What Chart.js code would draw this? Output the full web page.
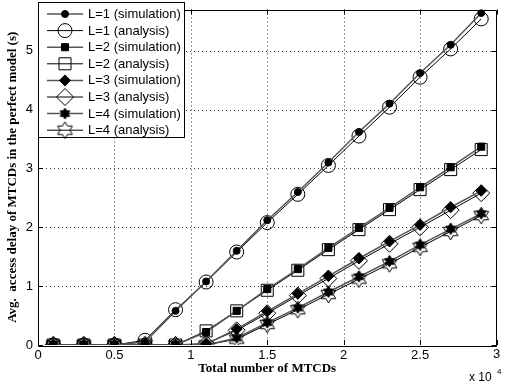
<!DOCTYPE html>
<html>
<head>
<meta charset="utf-8">
<script src="https://cdn.jsdelivr.net/npm/chart.js@4/dist/chart.umd.min.js"></script>
<style>
  html, body { margin: 0; padding: 0; background: #fff; }
  #wrap { width: 506px; height: 385px; position: relative; }
</style>
</head>
<body>
<div id="wrap"><canvas id="chart" width="506" height="385"></canvas></div>
<script>
const mtcds = [1000, 3000, 5000, 7000, 9000, 11000, 13000, 15000, 17000, 19000, 21000, 23000, 25000, 27000, 29000];

const l1Sim = [0, 0, 0, 0.05, 0.58, 1.08, 1.6, 2.12, 2.6, 3.1, 3.62, 4.1, 4.62, 5.1, 5.64];
const l1Ana = [0, 0, 0, 0.08, 0.6, 1.07, 1.58, 2.08, 2.56, 3.05, 3.55, 4.04, 4.55, 5.03, 5.54];
const l2Sim = [0, 0, 0, 0, 0, 0.22, 0.58, 0.95, 1.29, 1.65, 1.99, 2.33, 2.68, 3.02, 3.37];
const l2Ana = [0, 0, 0, 0, 0, 0.24, 0.58, 0.93, 1.27, 1.62, 1.96, 2.3, 2.64, 2.98, 3.32];
const l3Sim = [0, 0, 0, 0, 0, 0.02, 0.27, 0.57, 0.87, 1.17, 1.47, 1.76, 2.04, 2.34, 2.62];
const l3Ana = [0, 0, 0, 0, 0, 0.02, 0.25, 0.54, 0.84, 1.13, 1.43, 1.72, 2.0, 2.29, 2.58];
const l4Sim = [0, 0, 0, 0, 0, 0, 0.12, 0.38, 0.63, 0.9, 1.16, 1.42, 1.7, 1.97, 2.23];
const l4Ana = [0, 0, 0, 0, 0, 0, 0.1, 0.35, 0.6, 0.86, 1.12, 1.38, 1.66, 1.93, 2.2];

const seriesLabels = ['L=1 (simulation)', 'L=1 (analysis)', 'L=2 (simulation)', 'L=2 (analysis)',
    'L=3 (simulation)', 'L=3 (analysis)', 'L=4 (simulation)', 'L=4 (analysis)'];

const xTicks = [0, 5000, 10000, 15000, 20000, 25000, 30000];
const yTicks = [0, 1, 2, 3, 4, 5];

const yTitle = 'Avg.  access delay of MTCDs in the perfect model (s)';
const xTitle = 'Total number of MTCDs';

function makeStar(r, filled) {
    let c = document.createElement('canvas');
    let s = Math.ceil(2 * r + 4);
    c.width = s;
    c.height = s;
    let ctx = c.getContext('2d');
    ctx.translate(s / 2, s / 2);
    ctx.beginPath();
    for (let k = 0; k < 12; k++) {
        let a = -Math.PI / 2 + k * Math.PI / 6;
        let rr = k % 2 == 0 ? r : r * 0.577;
        let px = Math.cos(a) * rr, py = Math.sin(a) * rr;
        if (k == 0) ctx.moveTo(px, py); else ctx.lineTo(px, py);
    }
    ctx.closePath();
    if (filled) {
        ctx.fillStyle = '#000';
        ctx.fill();
    }
    ctx.strokeStyle = '#000';
    ctx.lineWidth = 1;
    ctx.stroke();
    return c;
}

const markerStyles = [
    { pointStyle: 'circle', radius: 3.5, fill: '#000' },
    { pointStyle: 'circle', radius: 7, fill: 'rgba(0,0,0,0)' },
    { pointStyle: 'rect', radius: 5, fill: '#000' },
    { pointStyle: 'rect', radius: 8.5, fill: 'rgba(0,0,0,0)' },
    { pointStyle: 'rectRot', radius: 5.5, fill: '#000' },
    { pointStyle: 'rectRot', radius: 8.5, fill: 'rgba(0,0,0,0)' },
    { pointStyle: makeStar(5.5, true), radius: 5.5, fill: '#000' },
    { pointStyle: makeStar(8.5, false), radius: 8.5, fill: 'rgba(0,0,0,0)' }
];

let allSeries = [l1Sim, l1Ana, l2Sim, l2Ana, l3Sim, l3Ana, l4Sim, l4Ana];

let datasets = allSeries.map((values, i) => {
    let sim = i % 2 == 0;
    let m = markerStyles[i];
    return {
        label: seriesLabels[i],
        data: values.map((v, j) => ({ x: mtcds[j], y: v })),
        borderColor: sim ? '#555' : '#000',
        borderWidth: sim ? 1.5 : 1,
        pointStyle: m.pointStyle,
        pointRadius: m.radius,
        pointHoverRadius: m.radius,
        pointBackgroundColor: m.fill,
        pointBorderColor: '#000',
        pointBorderWidth: 1,
        fill: false,
        tension: 0
    };
});

let tickLabel = (v) => String(v / 10000);
let lastX = xTicks[xTicks.length - 1];

let dottedGrid = {
    id: 'dottedGrid',
    beforeDatasetsDraw(chart) {
        let ctx = chart.ctx;
        let a = chart.chartArea;
        let xs = chart.scales.x, ys = chart.scales.y;
        ctx.save();
        ctx.strokeStyle = '#333';
        ctx.lineWidth = 1;
        ctx.setLineDash([1, 3]);
        ctx.beginPath();
        xTicks.slice(1, -1).forEach(t => {
            let px = Math.round(xs.getPixelForValue(t)) + 0.5;
            ctx.moveTo(px, a.top);
            ctx.lineTo(px, a.bottom);
        });
        yTicks.slice(1).forEach(t => {
            let py = Math.round(ys.getPixelForValue(t)) + 0.5;
            ctx.moveTo(a.left, py);
            ctx.lineTo(a.right, py);
        });
        ctx.stroke();
        ctx.restore();
    }
};

let frameAndText = {
    id: 'frameAndText',
    afterDraw(chart) {
        let ctx = chart.ctx;
        let a = chart.chartArea;
        let xs = chart.scales.x, ys = chart.scales.y;
        ctx.save();
        ctx.strokeStyle = '#000';
        ctx.lineWidth = 1;
        ctx.beginPath();
        ctx.rect(Math.round(a.left) + 0.5, Math.round(a.top) + 0.5, Math.round(a.right - a.left) - 1, Math.round(a.bottom - a.top));
        // inward ticks
        xTicks.forEach(t => {
            let px = Math.round(xs.getPixelForValue(t)) + 0.5;
            ctx.moveTo(px, a.bottom); ctx.lineTo(px, a.bottom - 5);
            ctx.moveTo(px, a.top); ctx.lineTo(px, a.top + 5);
        });
        yTicks.forEach(t => {
            let py = Math.round(ys.getPixelForValue(t)) + 0.5;
            ctx.moveTo(a.left, py); ctx.lineTo(a.left + 5, py);
            ctx.moveTo(a.right, py); ctx.lineTo(a.right - 5, py);
        });
        ctx.stroke();

        // last x label sits on the canvas edge, so it is drawn here (half cut off)
        ctx.fillStyle = '#000';
        ctx.font = '13px "Liberation Sans", Arial, sans-serif';
        ctx.textAlign = 'center';
        ctx.textBaseline = 'top';
        ctx.fillText(tickLabel(lastX), xs.getPixelForValue(lastX), a.bottom + 3);

        // legend box
        let lx = 38, ly = 2, lw = 146, lh = 135;
        ctx.fillStyle = '#fff';
        ctx.fillRect(lx, ly, lw, lh);
        ctx.strokeRect(lx + 0.5, ly + 0.5, lw, lh);
        ctx.font = '13px "Liberation Sans", Arial, sans-serif';
        ctx.textBaseline = 'middle';
        ctx.textAlign = 'left';
        chart.data.datasets.forEach((ds, i) => {
            let ry = 14 + i * 16.6;
            ctx.strokeStyle = ds.borderColor;
            ctx.lineWidth = ds.borderWidth;
            ctx.beginPath();
            ctx.moveTo(47, ry); ctx.lineTo(83, ry);
            ctx.stroke();
            ctx.fillStyle = ds.pointBackgroundColor;
            ctx.strokeStyle = '#000';
            ctx.lineWidth = 1;
            Chart.helpers.drawPoint(ctx, {
                pointStyle: ds.pointStyle,
                radius: ds.pointRadius,
                rotation: 0,
                borderWidth: 1
            }, 65, ry);
            ctx.fillStyle = '#000';
            ctx.fillText(ds.label, 88, ry + 0.5);
        });

        // axis titles
        ctx.fillStyle = '#000';
        ctx.font = 'bold 13px "Liberation Serif", "Times New Roman", serif';
        ctx.textAlign = 'center';
        ctx.textBaseline = 'middle';
        ctx.fillText(xTitle, (a.left + a.right) / 2, 369);
        ctx.save();
        ctx.translate(13, (a.top + a.bottom) / 2);
        ctx.rotate(-Math.PI / 2);
        ctx.fillText(yTitle, 0, 0);
        ctx.restore();

        // exponent label
        ctx.font = '12px "Liberation Sans", Arial, sans-serif';
        ctx.textAlign = 'left';
        ctx.fillText('x 10', 469, 378);
        ctx.font = '8px "Liberation Sans", Arial, sans-serif';
        ctx.fillText('4', 497, 372);
        ctx.restore();
    }
};

let tickFont = { family: '"Liberation Sans", Arial, sans-serif', size: 13 };
let hiddenGrid = {
    color: 'rgba(0,0,0,0)',
    drawTicks: false
};

new Chart(document.getElementById('chart'), {
    type: 'line',
    data: { datasets },
    plugins: [dottedGrid, frameAndText],
    options: {
        responsive: false,
        animation: false,
        layout: { padding: { top: 2, right: 0, left: 0, bottom: 0 } },
        plugins: {
            legend: { display: false },
            tooltip: { enabled: false }
        },
        scales: {
            x: {
                type: 'linear',
                min: 0,
                max: 30000,
                afterBuildTicks: (scale) => { scale.ticks = xTicks.map(v => ({ value: v })); },
                ticks: {
                    color: '#000',
                    font: tickFont,
                    padding: 3,
                    maxRotation: 0,
                    callback: (v) => v == lastX ? '' : tickLabel(v)
                },
                grid: hiddenGrid,
                border: { display: false },
                afterFit: (scale) => {
                    scale.height = 40;
                    scale.paddingLeft = 0;
                    scale.paddingRight = 0;
                }
            },
            y: {
                type: 'linear',
                min: 0,
                max: 5.7,
                afterBuildTicks: (scale) => { scale.ticks = yTicks.map(v => ({ value: v })); },
                ticks: {
                    color: '#000',
                    font: tickFont,
                    padding: 5
                },
                grid: hiddenGrid,
                border: { display: false },
                afterFit: (scale) => {
                    scale.width = 38;
                    scale.paddingTop = 0;
                    scale.paddingBottom = 0;
                }
            }
        }
    }
});
</script>
</body>
</html>
